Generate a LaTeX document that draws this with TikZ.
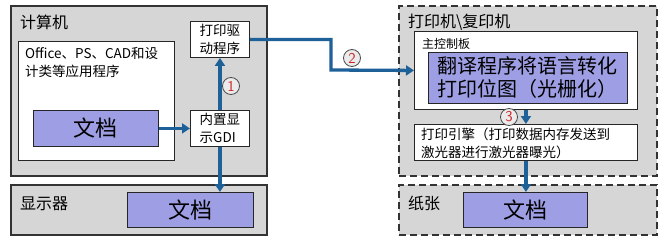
\documentclass[tikz,border=0pt]{standalone}
\usepackage{fontspec}
\newfontfamily\cjk{Noto Sans CJK SC}
\usetikzlibrary{arrows.meta}
\definecolor{panelgray}{RGB}{214,214,214}
\definecolor{docblue}{RGB}{158,158,228}
\definecolor{flowblue}{RGB}{30,96,152}
\definecolor{numred}{RGB}{205,35,35}
\tikzset{
    panel/.style={draw=black!80, fill=panelgray, line width=2pt, anchor=north west, inner sep=0pt},
    dashpanel/.style={panel, dash pattern=on 7pt off 4pt},
    whitebox/.style={draw=black!85, fill=white, line width=0.9pt, anchor=north west, inner sep=0pt},
    docbox/.style={draw=black!85, fill=docblue, line width=0.9pt, anchor=north west, inner sep=0pt, font=\cjk\fontsize{22}{26}\selectfont},
    flow/.style={draw=flowblue, line width=3.3pt, -{Triangle[length=8pt,width=10pt]}},
    stepnum/.style={circle, draw=black!70, line width=0.8pt, fill=black!8, inner sep=0pt, minimum size=17pt, text=numred, font=\sffamily\fontsize{15}{15}\selectfont},
    title/.style={anchor=west, inner sep=0pt, font=\cjk\fontsize{16}{18}\selectfont},
    smalltext/.style={inner sep=0pt, font=\cjk\fontsize{13.5}{18}\selectfont, align=left}
}
\begin{document}
\begin{tikzpicture}[x=1pt, y=-1pt]
        \useasboundingbox (0,0) rectangle (664,241);
        \node[panel, minimum width=256pt, minimum height=170pt] (comp) at (10,5) {};
        \node[title] (comptitle) at (20,22) {计算机};
        \node[whitebox, minimum width=156pt, minimum height=119pt] (office) at (18,41) {};
        \node[smalltext, anchor=north west] (officetext) at (25,47) {Office、PS、CAD和设\\计类等应用程序};
        \node[docbox, minimum width=125pt, minimum height=36pt] (doc) at (33,110) {文档};
        \node[whitebox, smalltext, minimum width=59pt, minimum height=36pt] (driver) at (190,21) {打印驱\\动程序};
        \node[whitebox, smalltext, minimum width=59pt, minimum height=36pt] (gdi) at (190,110) {内置显\\示GDI};
        \node[panel, minimum width=256pt, minimum height=50pt] (disp) at (10,184) {};
        \node[title] (disptitle) at (20,204) {显示器};
        \node[docbox, minimum width=126pt, minimum height=35pt] (dispdoc) at (127,192) {文档};
        \node[dashpanel, minimum width=258pt, minimum height=170pt] (printer) at (398,5) {};
        \node[title] (printertitle) at (408,22) {打印机\textbackslash 复印机};
        \node[whitebox, minimum width=223pt, minimum height=78pt] (board) at (414,31) {};
        \node[smalltext, anchor=west, font=\cjk\fontsize{12}{14}\selectfont] (boardtitle) at (422,44) {主控制板};
        \node[docbox, align=center, font=\cjk\fontsize{20}{23}\selectfont, minimum width=199pt, minimum height=51pt] (raster) at (428,52) {翻译程序将语言转化\\打印位图（光栅化）};
        \node[whitebox, minimum width=223pt, minimum height=36pt] (engine) at (414,124) {};
        \node[smalltext, anchor=north west] (enginetext) at (421,128) {打印引擎（打印数据内存发送到\\激光器进行激光器曝光）};
        \node[dashpanel, minimum width=258pt, minimum height=50pt] (paper) at (398,184) {};
        \node[title] (papertitle) at (408,203) {纸张};
        \node[docbox, minimum width=124pt, minimum height=35pt] (paperdoc) at (463,192) {文档};
        \draw[flow] (doc.east) -- (gdi.west);
        \draw[flow] (gdi.north) -- (driver.south);
        \draw[flow] (gdi.south) -- (gdi.south |- dispdoc.north);
        \coordinate (bend) at (331,70);
        \draw[flow] (driver.east) -| (bend) -- (board.west);
        \draw[flow] (board.south) -- (engine.north);
        \draw[flow] (engine.south) -- (engine.south |- paperdoc.north);
        \node[stepnum] (one) at (231,86) {1};
        \node[stepnum] (two) at (352,58) {2};
        \node[stepnum] (three) at (509,117) {3};
    \end{tikzpicture}
\end{document}
